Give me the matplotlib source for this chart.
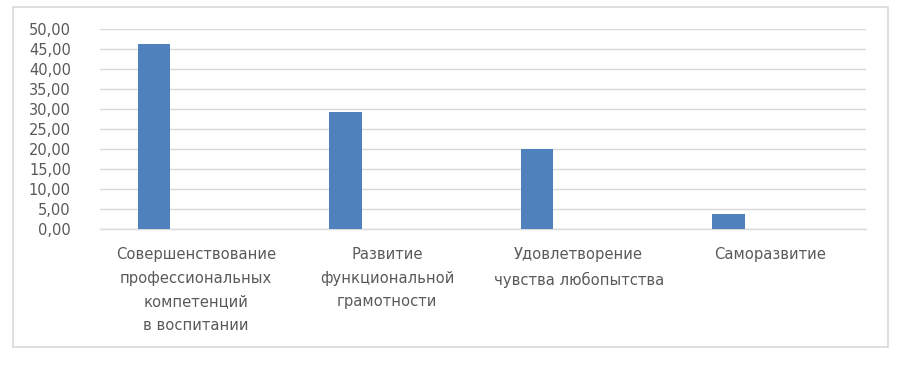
import numpy as np
import matplotlib.pyplot as plt
from matplotlib.patches import Rectangle

categories = [
    "Совершенствование\nпрофессиональных\nкомпетенций\nв воспитании",
    "Развитие\nфункциональной\nграмотности",
    "Удовлетворение\nчувства любопытства",
    "Саморазвитие",
]
values = [46.3, 29.3, 20.0, 3.7]
yticks = [0, 5, 10, 15, 20, 25, 30, 35, 40, 45, 50]

BAR_COLOR = "#4F81BD"
GRID_COLOR = "#D9D9D9"
TEXT_COLOR = "#595959"

plt.rcParams["font.family"] = ["DejaVu Sans"]

W, H = 903, 367
fig = plt.figure(figsize=(W / 100, H / 100), dpi=100)
fig.patch.set_facecolor("white")

# chart frame
fig.patches.append(
    Rectangle((13 / W, 1 - 347 / H), 875 / W, 340 / H, transform=fig.transFigure,
              fill=False, edgecolor=GRID_COLOR, linewidth=1.2)
)

ax = fig.add_axes([100 / W, 1 - 228.7 / H, 766 / W, 199.4 / H])
x = np.arange(len(categories))
ax.bar(x - 0.218, values, width=0.172, color=BAR_COLOR, zorder=3)

ax.set_xlim(-0.5, len(categories) - 0.5)
ax.set_ylim(0, 50)
ax.set_yticks(yticks)
ax.set_yticklabels([f"{v:.2f}".replace(".", ",") for v in yticks],
                   fontsize=10.5, color=TEXT_COLOR)
ax.set_xticks(x)
ax.set_xticklabels(categories, fontsize=10.6, color=TEXT_COLOR, linespacing=1.73,
                   va="top")
ax.tick_params(axis="both", length=0)
ax.tick_params(axis="x", pad=13)
ax.tick_params(axis="y", pad=21)
ax.grid(axis="y", color=GRID_COLOR, linewidth=1, zorder=0)
for side in ["top", "right", "left"]:
    ax.spines[side].set_visible(False)
ax.spines["bottom"].set_color(GRID_COLOR)
ax.spines["bottom"].set_linewidth(1)

fig.savefig("out.png", dpi=100)
